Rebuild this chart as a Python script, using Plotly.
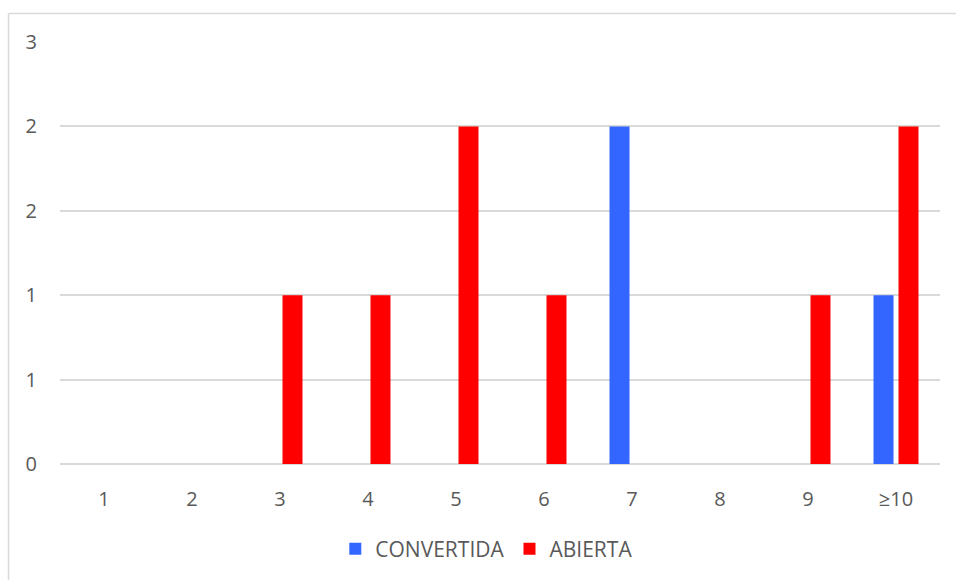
import plotly.graph_objects as go

categories = ["1", "2", "3", "4", "5", "6", "7", "8", "9", "≥10"]
convertida = [0, 0, 0, 0, 0, 0, 2, 0, 0, 1]
abierta = [0, 0, 1, 1, 2, 1, 0, 0, 1, 2]

y_tickvals = [0, 0.5, 1, 1.5, 2, 2.5]
y_ticktext = ["0", "1", "1", "2", "2", "3"]

W, H = 956, 580
ML, MR, MT, MB = 60, 16, 42, 115
pw, ph = W - ML - MR, H - MT - MB

def px_to_paper_x(px):
    return (px - ML) / pw

def px_to_paper_y(py):
    return (H - MB - py) / ph

text_color = "#595959"
font_family = "Open Sans, Liberation Sans, sans-serif"
fs = 20
legend_fs = 21

fig = go.Figure()
fig.add_trace(go.Bar(x=categories, y=convertida, name="CONVERTIDA",
                     marker=dict(color="#3366FF", line=dict(width=0))))
fig.add_trace(go.Bar(x=categories, y=abierta, name="ABIERTA",
                     marker=dict(color="#FF0000", line=dict(width=0))))

# Outer chart frame (left and top edges visible)
fig.add_shape(type="line", xref="paper", yref="paper",
              x0=px_to_paper_x(8.5), x1=px_to_paper_x(960),
              y0=px_to_paper_y(13.5), y1=px_to_paper_y(13.5),
              line=dict(color="#D9D9D9", width=1.5))
fig.add_shape(type="line", xref="paper", yref="paper",
              x0=px_to_paper_x(8.5), x1=px_to_paper_x(8.5),
              y0=px_to_paper_y(13.5), y1=px_to_paper_y(590),
              line=dict(color="#D9D9D9", width=1.5))

fig.update_layout(
    width=W, height=H,
    margin=dict(l=ML, r=MR, t=MT, b=MB),
    paper_bgcolor="white", plot_bgcolor="white",
    barmode="group", bargap=0.432, bargroupgap=0.2,
    font=dict(family=font_family, size=fs, color=text_color),
    legend=dict(orientation="h", x=0.485, xanchor="center",
                y=px_to_paper_y(549), yanchor="middle",
                font=dict(size=legend_fs, color=text_color),
                itemwidth=30, tracegroupgap=0),
    xaxis=dict(type="category", showgrid=False, zeroline=False,
               showline=False, ticks="", ticklabelstandoff=21,
               tickfont=dict(size=fs, color=text_color)),
    yaxis=dict(range=[0, 2.5], tickvals=y_tickvals, ticktext=y_ticktext,
               showgrid=True, gridcolor="#D9D9D9", gridwidth=1.5,
               zeroline=True, zerolinecolor="#D9D9D9", zerolinewidth=1.5,
               showline=False, ticks="", ticklabelstandoff=22,
               tickfont=dict(size=fs, color=text_color)),
)

fig.write_html("out.html")
